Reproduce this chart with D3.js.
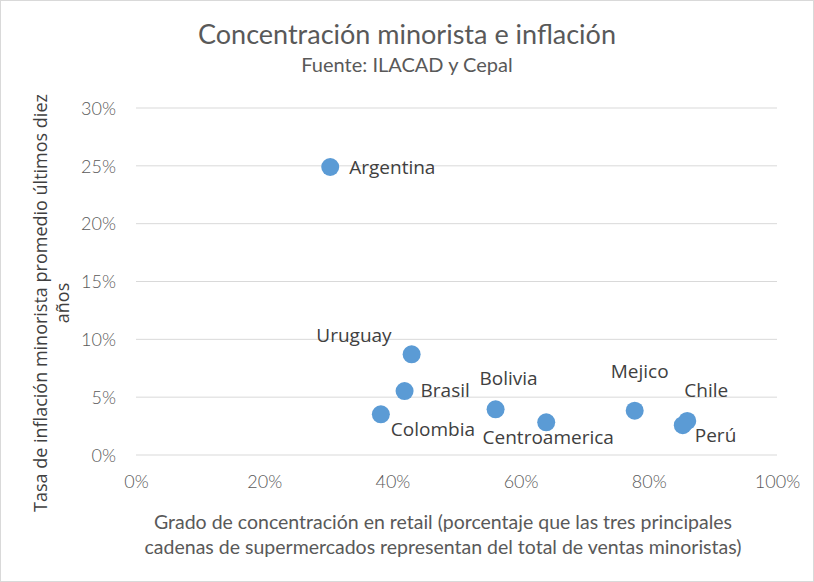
<!doctype html>
<html>
<head>
<meta charset="utf-8">
<script src="https://cdnjs.cloudflare.com/ajax/libs/d3/7.8.5/d3.min.js"></script>
<style>
  body { margin: 0; background: #fff; }
  svg { display: block; }
  .tick text { fill: #595959; }
</style>
</head>
<body>
<svg id="chart" width="814" height="582"></svg>
<script>
// data
var countries = ["Argentina", "Uruguay", "Brasil", "Colombia", "Bolivia", "Centroamerica", "Mejico", "Chile", "Perú"];
var concentracion = [0.303, 0.430, 0.419, 0.382, 0.561, 0.640, 0.778, 0.860, 0.853];
var inflacion = [0.249, 0.087, 0.0553, 0.0352, 0.0395, 0.0283, 0.0383, 0.0295, 0.0258];
var xTicks = [0, 0.2, 0.4, 0.6, 0.8, 1.0];
var yTicks = [0, 0.05, 0.10, 0.15, 0.20, 0.25, 0.30];

// where each data label sits relative to its point (like excel label positions)
var labelPos = {
  "Argentina": [19, 0, "start"],
  "Uruguay": [-20, -19, "end"],
  "Brasil": [16, -1, "start"],
  "Colombia": [10, 15, "start"],
  "Bolivia": [13, -31, "middle"],
  "Centroamerica": [2, 15, "middle"],
  "Mejico": [5, -39, "middle"],
  "Chile": [19, -31, "middle"],
  "Perú": [12, 10, "start"]
};

var svg = d3.select("#chart");
var W = 814, H = 582;
var plotL = 136, plotR = 777, plotT = 108, plotB = 455;

svg.append("rect")
  .attr("x", 0.5).attr("y", 0.5)
  .attr("width", W - 1).attr("height", H - 1)
  .attr("fill", "#fff").attr("stroke", "#d9d9d9");

var x = d3.scaleLinear().domain([0, 1]).range([plotL, plotR]);
var y = d3.scaleLinear().domain([0, 0.30]).range([plotB, plotT]);

var tickFont = "Lato, 'Open Sans', sans-serif";
var labFont = "'Open Sans', 'Noto Sans', sans-serif";

// gridlines
svg.append("g")
  .selectAll("line")
  .data(yTicks)
  .enter()
  .append("line")
    .attr("x1", plotL).attr("x2", plotR)
    .attr("y1", d => y(d)).attr("y2", d => y(d))
    .attr("stroke", "#d9d9d9").attr("stroke-width", 1);

var yAxis = svg.append("g")
  .attr("transform", "translate(" + (plotL - 20) + ",0)")
  .call(d3.axisLeft(y).tickValues(yTicks).tickFormat(d3.format(".0%")).tickSize(0).tickPadding(0));
yAxis.select(".domain").remove();
yAxis.selectAll("text")
  .attr("font-family", tickFont).attr("font-weight", 300).attr("font-size", 18).attr("dy", "0.35em");

var xAxis = svg.append("g")
  .attr("transform", "translate(0," + (plotB + 19) + ")")
  .call(d3.axisBottom(x).tickValues(xTicks).tickFormat(d3.format(".0%")).tickSize(0).tickPadding(0));
xAxis.select(".domain").remove();
xAxis.selectAll("text")
  .attr("font-family", tickFont).attr("font-weight", 300).attr("font-size", 18).attr("dy", "0.8em");

// points
svg.append("g")
  .selectAll("circle")
  .data(countries)
  .enter()
  .append("circle")
    .attr("cx", (d, i) => x(concentracion[i]))
    .attr("cy", (d, i) => y(inflacion[i]))
    .attr("r", 9)
    .attr("fill", "#5b9bd5");

// data labels
svg.append("g")
  .selectAll("text")
  .data(countries)
  .enter()
  .append("text")
    .attr("x", (d, i) => x(concentracion[i]) + labelPos[d][0])
    .attr("y", (d, i) => y(inflacion[i]) + labelPos[d][1])
    .attr("dy", "0.35em")
    .attr("text-anchor", d => labelPos[d][2])
    .attr("font-family", labFont).attr("font-size", 19)
    .attr("fill", "#404040")
    .text(d => d);

// titles
svg.append("text")
  .attr("x", 407).attr("y", 44)
  .attr("text-anchor", "middle")
  .attr("font-family", tickFont).attr("font-size", 27)
  .attr("fill", "#595959")
  .text("Concentración minorista e inflación");

svg.append("text")
  .attr("x", 407).attr("y", 72)
  .attr("text-anchor", "middle")
  .attr("font-family", tickFont).attr("font-size", 20)
  .attr("fill", "#595959")
  .text("Fuente: ILACAD y Cepal");

var xTitle = ["Grado de concentración en retail (porcentaje que las tres principales",
              "cadenas de supermercados representan del total de ventas minoristas)"];
svg.append("g")
  .selectAll("text")
  .data(xTitle)
  .enter()
  .append("text")
    .attr("x", 443)
    .attr("y", (d, i) => 529 + i * 25)
    .attr("text-anchor", "middle")
    .attr("font-family", tickFont).attr("font-size", 19.5)
    .attr("fill", "#595959")
    .text(d => d);

var yTitle = ["Tasa de inflación minorista promedio últimos diez", "años"];
svg.append("g")
  .attr("transform", "translate(0,303) rotate(-90)")
  .selectAll("text")
  .data(yTitle)
  .enter()
  .append("text")
    .attr("x", 0)
    .attr("y", (d, i) => 47 + i * 22)
    .attr("text-anchor", "middle")
    .attr("font-family", labFont).attr("font-size", 18)
    .attr("fill", "#404040")
    .text(d => d);
</script>
</body>
</html>
